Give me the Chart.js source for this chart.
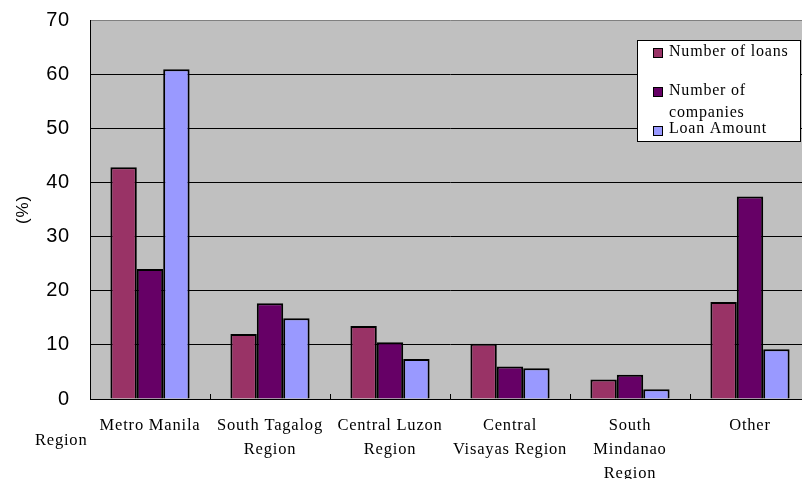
<!DOCTYPE html>
<html>
<head>
<meta charset="utf-8">
<script src="https://cdn.jsdelivr.net/npm/chart.js@4/dist/chart.umd.min.js"></script>
<style>
  html, body { margin: 0; padding: 0; background: #fff; overflow: hidden; }
  #wrap { width: 812px; height: 479px; }
</style>
</head>
<body>
<div id="wrap"><canvas id="c" width="812" height="479"></canvas></div>
<script>
// Regional breakdown (%)
const regions = [
  'Metro Manila',
  ['South Tagalog', 'Region'],
  ['Central Luzon', 'Region'],
  ['Central', 'Visayas Region'],
  ['South', 'Mindanao', 'Region'],
  'Other'
];
const numberOfLoans     = [42.8, 12.0, 13.5, 10.2, 3.6, 17.9];
const numberOfCompanies = [24.0, 17.7, 10.5, 6.0, 4.5, 37.4];
const loanAmount        = [60.9, 14.9, 7.4, 5.7, 1.8, 9.2];
const yTicks = [0, 10, 20, 30, 40, 50, 60, 70];

const legendLabels = [['Number of loans'], ['Number of', 'companies'], ['Loan Amount']];

const SERIF = '"Liberation Serif", "Times New Roman", serif';
const SANS = '"Liberation Sans", Arial, sans-serif';

// Grey plot background and text spacing for the serif labels
const bgPlugin = {
  id: 'plotBg',
  beforeDraw(chart) {
    const { ctx, chartArea: a } = chart;
    ctx.save();
    ctx.fillStyle = '#C0C0C0';
    ctx.fillRect(a.left, a.top, a.right - a.left, a.bottom - a.top);
    ctx.restore();
    ctx.letterSpacing = '0.8px';
  }
};

// Small inward tick marks between categories, "Region" caption and legend box
const decorPlugin = {
  id: 'decor',
  afterDraw(chart) {
    const ctx = chart.ctx;
    const xs = chart.scales.x;
    const area = chart.chartArea;
    ctx.save();
    ctx.strokeStyle = '#000';
    ctx.lineWidth = 1;
    for (let i = 1; i < chart.data.labels.length; i++) {
      const bx = Math.round((xs.getPixelForValue(i - 1) + xs.getPixelForValue(i)) / 2) + 0.5;
      ctx.beginPath();
      ctx.moveTo(bx, area.bottom);
      ctx.lineTo(bx, area.bottom - 5);
      ctx.stroke();
    }

    ctx.letterSpacing = '0.8px';
    ctx.fillStyle = '#000';
    ctx.font = '16.5px ' + SERIF;
    ctx.textAlign = 'left';
    ctx.textBaseline = 'middle';
    ctx.fillText('Region', 35, 441);

    // legend
    const lx = 637.5, ly = 40.5, lw = 163, lh = 101;
    ctx.fillStyle = '#fff';
    ctx.fillRect(lx, ly, lw, lh);
    ctx.strokeStyle = '#000';
    ctx.strokeRect(lx, ly, lw, lh);
    const rowY = [[52], [91, 113], [129]];
    const markY = [53, 92, 131];
    chart.data.datasets.forEach((ds, i) => {
      ctx.fillStyle = ds.backgroundColor;
      ctx.fillRect(653, markY[i] - 5, 9, 9);
      ctx.strokeStyle = '#000';
      ctx.strokeRect(653.5, markY[i] - 4.5, 9, 9);
      ctx.fillStyle = '#000';
      ctx.font = '16px ' + SERIF;
      legendLabels[i].forEach((t, j) => ctx.fillText(t, 669, rowY[i][j]));
    });
    ctx.restore();
  }
};

new Chart(document.getElementById('c'), {
  type: 'bar',
  data: {
    labels: regions,
    datasets: [
      { label: 'Number of loans', data: numberOfLoans, backgroundColor: '#993366' },
      { label: 'Number of companies', data: numberOfCompanies, backgroundColor: '#660066' },
      { label: 'Loan Amount', data: loanAmount, backgroundColor: '#9999FF' }
    ]
  },
  options: {
    responsive: false,
    animation: false,
    devicePixelRatio: 1,
    layout: { padding: { left: 0, right: 2, top: 20, bottom: 0 } },
    datasets: {
      bar: {
        borderColor: '#000',
        borderWidth: 2,
        categoryPercentage: 0.66,
        barPercentage: 1.0
      }
    },
    plugins: {
      legend: { display: false },
      tooltip: { enabled: false },
      title: { display: false }
    },
    scales: {
      x: {
        grid: { display: false, drawTicks: false },
        border: { display: true, color: '#000', width: 1 },
        ticks: {
          color: '#000',
          font: { family: SERIF, size: 16.5, lineHeight: 1.45 },
          padding: 15,
          maxRotation: 0,
          autoSkip: false
        },
        afterFit(s) { s.height = 80; s.paddingLeft = 0; s.paddingRight = 0; }
      },
      y: {
        min: 0,
        max: 70,
        afterBuildTicks(s) { s.ticks = yTicks.map(v => ({ value: v })); },
        grid: {
          drawTicks: false,
          color: ctx => (ctx.tick && ctx.tick.value === 70 ? '#808080' : '#000'),
          lineWidth: 1
        },
        border: { display: true, color: '#000', width: 1 },
        ticks: {
          color: '#000',
          font: { family: SANS, size: 20 },
          padding: 20
        },
        title: {
          display: true,
          text: '(%)',
          color: '#000',
          font: { family: SANS, size: 17 },
          padding: { top: 13, bottom: 0 }
        },
        afterFit(s) { s.width = 90; s.paddingTop = 0; s.paddingBottom = 0; }
      }
    }
  },
  plugins: [bgPlugin, decorPlugin]
});
</script>
</body>
</html>
